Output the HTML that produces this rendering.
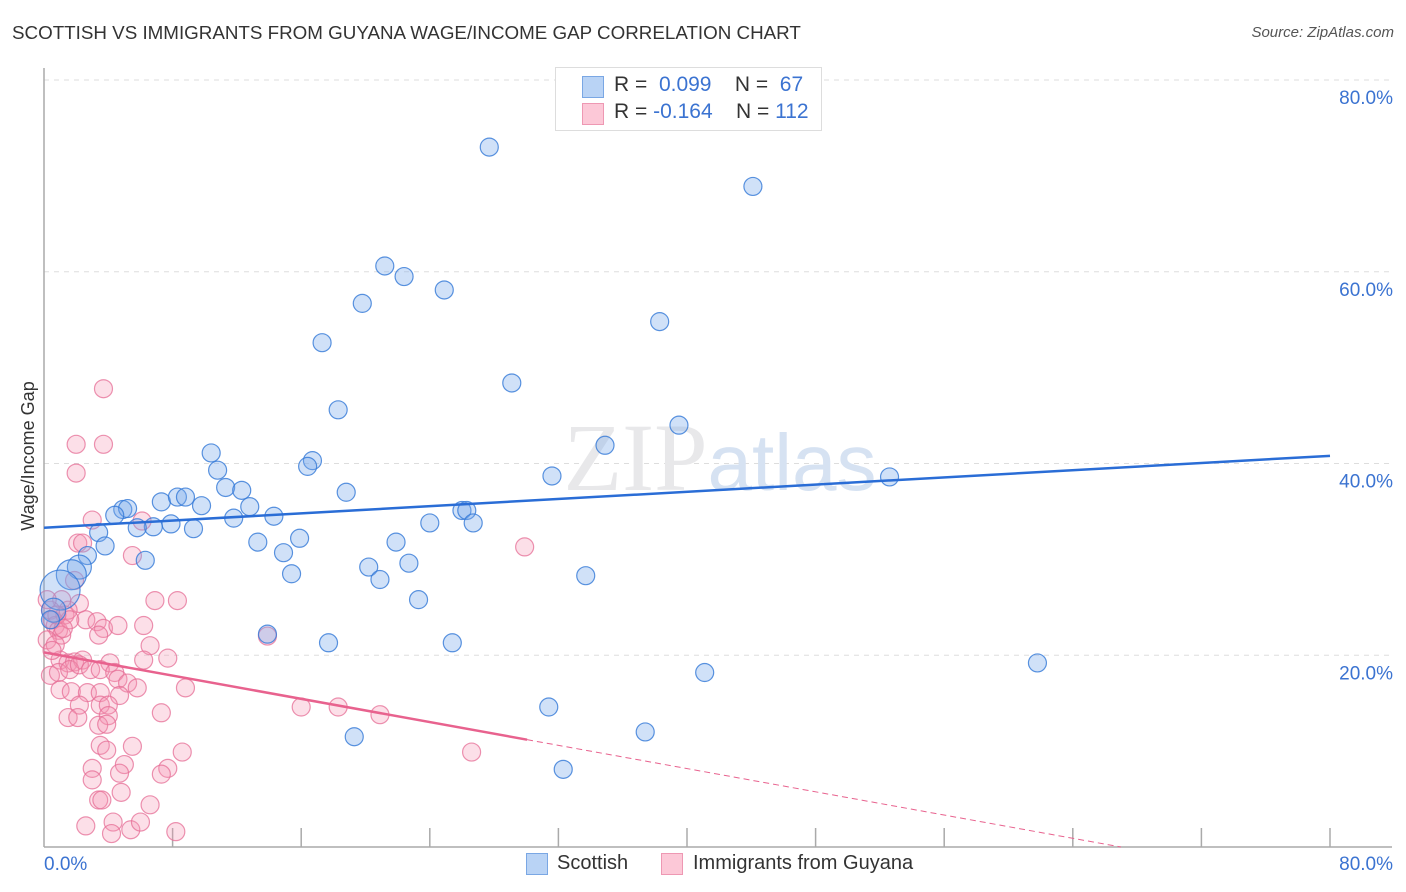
<!DOCTYPE html>
<html><head><meta charset="utf-8">
<style>
body{margin:0;background:#fff;font-family:"Liberation Sans",sans-serif;}
#wrap{position:relative;width:1406px;height:892px;overflow:hidden;}
.t{position:absolute;white-space:nowrap;}
</style></head>
<body>
<div id="wrap">
<div class="t" style="left:12px;top:22px;font-size:18.8px;color:#333;">SCOTTISH VS IMMIGRANTS FROM GUYANA WAGE/INCOME GAP CORRELATION CHART</div>
<div class="t" style="right:12px;top:24px;font-size:15px;color:#555;font-style:italic;">Source: ZipAtlas.com</div>
<svg id="plot" width="1406" height="892" style="position:absolute;left:0;top:0"></svg>
</div>
<script>
const blueX=[27.7,44.1,21.2,22.4,24.9,19.8,38.3,17.3,29.1,18.3,39.5,34.9,10.4,16.7,16.4,10.8,31.6,52.6,11.3,12.3,18.8,7.3,8.3,8.8,9.8,12.8,4.9,5.2,4.4,11.8,14.3,26.0,26.3,24.0,26.7,7.9,6.8,5.8,9.3,3.4,15.9,13.3,21.9,3.8,14.9,6.3,20.2,22.7,20.9,15.4,33.7,2.7,2.2,1.7,1.0,23.3,13.9,17.7,25.4,61.8,41.1,31.4,19.3,37.4,32.3,0.6,0.4];
const blueY=[73.0,68.9,60.6,59.5,58.1,56.7,54.8,52.6,48.4,45.6,44.0,41.9,41.1,40.3,39.7,39.3,38.7,38.6,37.5,37.2,37.0,36.0,36.5,36.5,35.6,35.5,35.2,35.3,34.6,34.3,34.5,35.1,35.1,33.8,33.8,33.7,33.4,33.3,33.2,32.8,32.2,31.8,31.8,31.4,30.7,29.9,29.2,29.6,27.9,28.5,28.3,30.4,29.2,28.4,26.8,25.8,22.2,21.3,21.3,19.2,18.2,14.6,11.5,12.0,8.1,24.7,23.7];
const blueBig={52:12,53:15,54:20,65:12};
const pinkX=[3.7,2.0,3.7,2.0,3.0,2.1,2.4,5.5,6.1,6.9,8.3,13.9,29.9,26.6,18.3,16.0,20.9,1.1,2.2,0.4,0.5,0.7,0.9,1.1,1.3,1.5,2.6,3.3,3.7,4.6,6.2,3.4,6.6,6.2,7.7,0.2,0.7,1.0,1.5,1.9,2.4,4.1,0.4,0.9,1.6,2.2,2.9,3.5,4.4,4.6,5.2,8.8,1.0,1.7,2.7,3.5,4.7,5.8,3.5,4.0,2.2,1.5,2.1,4.0,7.3,3.4,3.9,8.6,3.5,3.9,5.5,3.0,5.0,7.7,3.0,4.7,7.3,3.4,3.6,4.8,6.6,2.6,4.3,5.4,6.0,8.2,4.2,1.6,0.2,0.5,0.8,1.2,1.9];
const pinkY=[47.8,42.0,42.0,39.0,34.1,31.7,31.7,30.4,34.0,25.7,25.7,22.0,31.3,9.9,14.6,14.6,13.8,25.8,25.4,24.7,23.7,23.1,22.6,22.1,24.2,24.7,23.7,23.5,22.8,23.1,23.1,22.1,21.0,19.5,19.7,21.6,21.1,19.5,19.2,19.3,19.5,19.2,17.9,18.2,18.5,19.0,18.5,18.5,18.2,17.5,17.1,16.6,16.4,16.2,16.1,16.1,15.8,16.6,14.8,14.8,14.8,13.5,13.5,13.7,14.0,12.7,12.8,9.9,10.6,10.1,10.5,8.2,8.6,8.2,7.0,7.7,7.6,4.9,4.9,5.7,4.4,2.2,2.6,1.8,2.6,1.6,1.4,23.7,25.8,20.5,24.2,22.8,27.8];
const blueTrend=[33.3,40.8];
const pinkTrend=[20.3,-0.303];
const yTicks=[20,40,60,80];
const xTickLabels=["0.0%","80.0%"];

const NS="http://www.w3.org/2000/svg";
const svg=document.getElementById('plot');
const X0=44,X1=1330,Y0=847,Y80=80;
const sx=v=>X0+(X1-X0)*v/80;
const sy=v=>Y0-(Y0-Y80)*v/80;
function mk(tag,attrs,parent){const e=document.createElementNS(NS,tag);for(const k in attrs)e.setAttribute(k,attrs[k]);(parent||svg).appendChild(e);return e;}

yTicks.forEach(t=>{
  const g=mk('line',{x1:X0,x2:1392,y1:sy(t),y2:sy(t),stroke:'#ddd','stroke-dasharray':'5,5'});
  
  
  const tx=mk('text',{x:1393,y:sy(t)+24,'text-anchor':'end','font-size':19,fill:'#3b73d1','font-family':'Liberation Sans'});
  tx.textContent=t.toFixed(1)+'%';
  
  
});
const ax=mk('line',{x1:X0,x2:X0,y1:68,y2:Y0,stroke:'#aaa','stroke-width':1.5});


const bx=mk('line',{x1:X0,x2:1392,y1:Y0,y2:Y0,stroke:'#aaa','stroke-width':1.5});


for(let i=1;i<=10;i++){const v=i*8;const tk=mk('line',{x1:sx(v),x2:sx(v),y1:828,y2:Y0,stroke:'#aaa','stroke-width':1.5});
  
  }
const xl=mk('text',{x:44,y:870,'font-size':19,fill:'#3b73d1','font-family':'Liberation Sans'});xl.textContent=xTickLabels[0];


const xr=mk('text',{x:1393,y:870,'text-anchor':'end','font-size':19,fill:'#3b73d1','font-family':'Liberation Sans'});xr.textContent=xTickLabels[1];


const yt=mk('text',{x:34,y:456,transform:'rotate(-90 34 456)','text-anchor':'middle','font-size':18,fill:'#333','font-family':'Liberation Sans'});yt.textContent='Wage/Income Gap';


const wm=mk('text',{x:720,y:490,'text-anchor':'middle','font-size':96,fill:'#e8e8ea','font-family':'Liberation Serif'});wm.innerHTML='ZIP<tspan fill="#d6e2f2" font-family="Liberation Sans" font-size="80">atlas</tspan>';



pinkX.forEach((x,i)=>{const c=mk('circle',{cx:sx(x),cy:sy(pinkY[i]),r:9,fill:'rgba(245,150,180,0.3)',stroke:'rgba(230,110,150,0.75)','stroke-width':1.2});
  
  });
blueX.forEach((x,i)=>{const c=mk('circle',{cx:sx(x),cy:sy(blueY[i]),r:blueBig[i]||9,fill:'rgba(120,170,235,0.35)',stroke:'rgba(50,120,215,0.8)','stroke-width':1.2});
  
  });

const bl=mk('line',{x1:sx(0),y1:sy(blueTrend[0]),x2:sx(80),y2:sy(blueTrend[1]),stroke:'#2a6dd6','stroke-width':2.5});


const pEnd=30.05;
const pl=mk('line',{x1:sx(0),y1:sy(pinkTrend[0]),x2:sx(pEnd),y2:sy(pinkTrend[0]+pinkTrend[1]*pEnd),stroke:'#e8628e','stroke-width':2.5});


const pz=-pinkTrend[0]/pinkTrend[1];
const pd=mk('line',{x1:sx(pEnd),y1:sy(pinkTrend[0]+pinkTrend[1]*pEnd),x2:sx(pz),y2:sy(0),stroke:'#e8628e','stroke-width':1,'stroke-dasharray':'6,4'});


</script>
<div class="t" style="left:555px;top:67px;width:265px;height:62px;border:1px solid #ddd;background:#fff;">
 <div style="position:absolute;left:26px;top:8px;width:20px;height:20px;background:#b9d3f5;border:1px solid #7aa7e4;"></div>
 <div style="position:absolute;left:26px;top:35px;width:20px;height:20px;background:#fcc8d7;border:1px solid #ee98b3;"></div>
 <div class="t" style="left:58px;top:5px;font-size:21px;color:#333;">R = &nbsp;<span style="color:#3b73d1">0.099</span>&nbsp;&nbsp;&nbsp; N = &nbsp;<span style="color:#3b73d1">67</span></div>
 <div class="t" style="left:58px;top:32px;font-size:21px;color:#333;">R = <span style="color:#3b73d1">-0.164</span>&nbsp;&nbsp;&nbsp; N = <span style="color:#3b73d1">112</span></div>
</div>
<div class="t" style="left:526px;top:853px;width:20px;height:20px;background:#b9d3f5;border:1px solid #7aa7e4;"></div>
<div class="t" style="left:557px;top:852px;font-size:20px;color:#333;">Scottish</div>
<div class="t" style="left:661px;top:853px;width:20px;height:20px;background:#fcc8d7;border:1px solid #ee98b3;"></div>
<div class="t" style="left:693px;top:852px;font-size:20px;color:#333;">Immigrants from Guyana</div>
</body></html>
